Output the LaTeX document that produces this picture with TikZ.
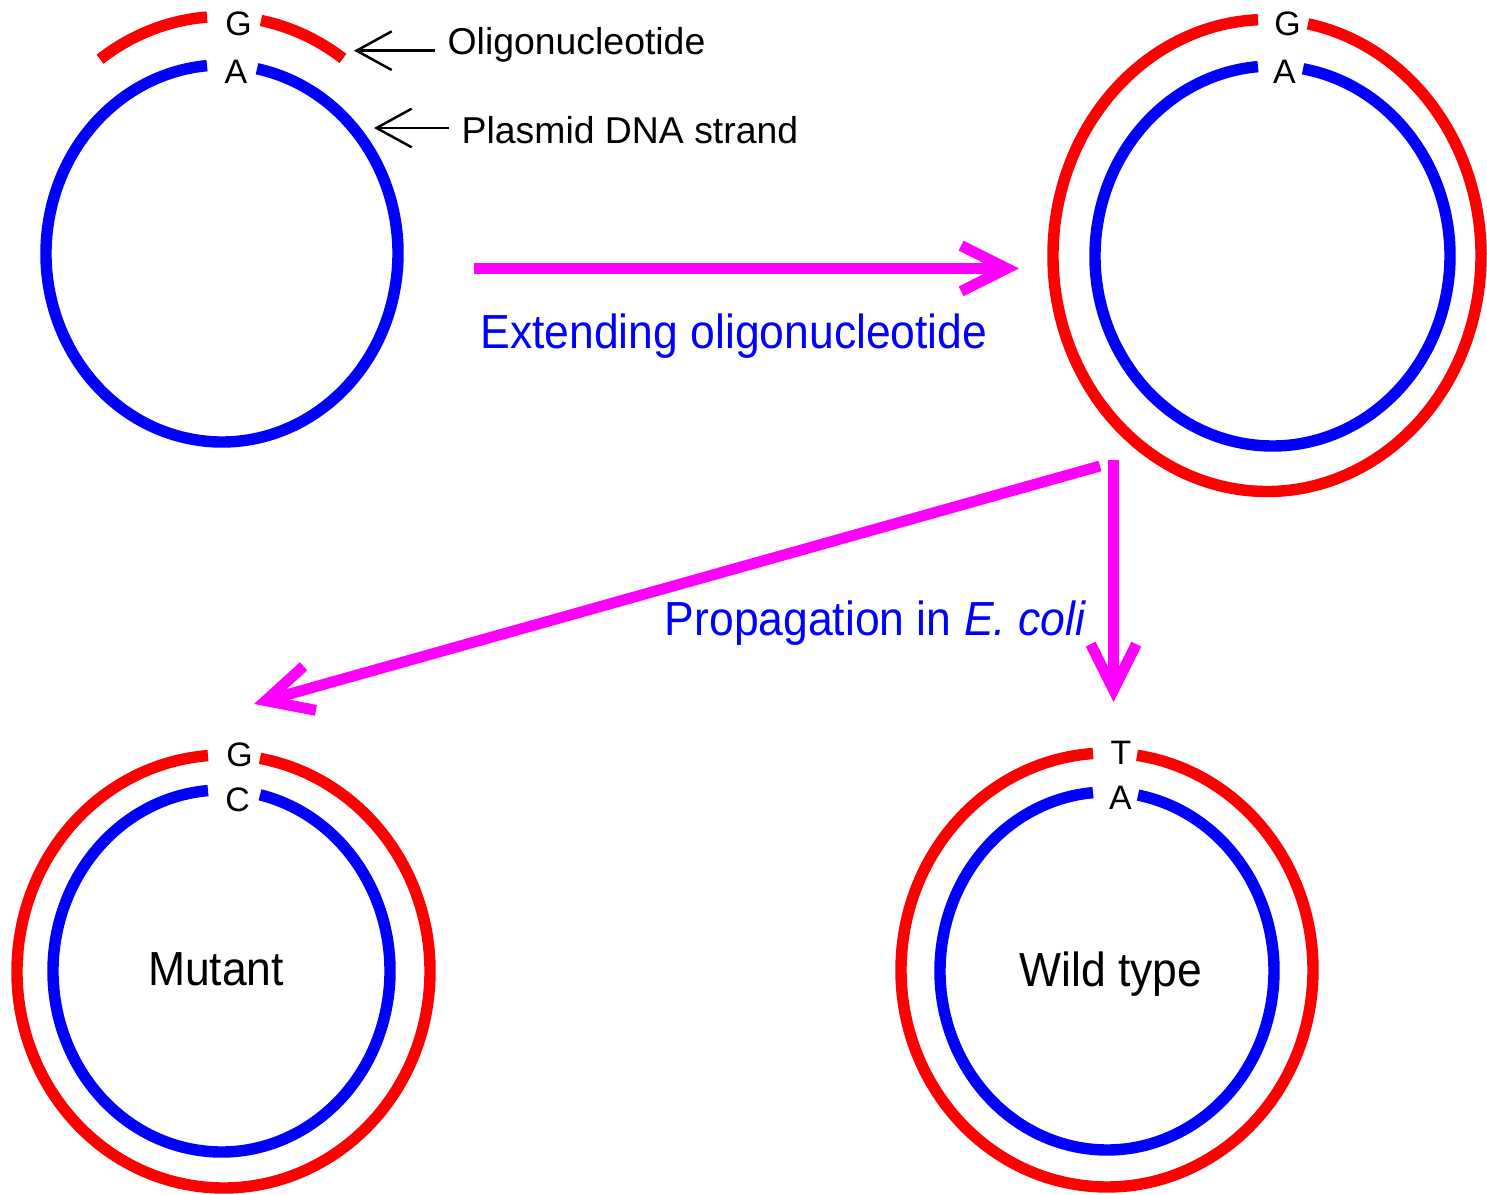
\documentclass[tikz,border=0pt]{standalone}
\usepackage{fontspec}
\setmainfont{Liberation Sans}
\newfontfamily\bigfont[FakeStretch=0.93]{Liberation Sans}
\usetikzlibrary{arrows.meta}
\definecolor{dnared}{RGB}{255,0,0}
\definecolor{dnablue}{RGB}{0,0,255}
\definecolor{arrowmag}{RGB}{255,0,255}
% ring with a gap at the top: cx cy rx ry xleft xright style
\newcommand\dnaring[7]{%
  \pgfmathsetmacro\ringStart{-acos((#6-(#1))/(#3))}%
  \pgfmathsetmacro\ringEnd{360-acos((#5-(#1))/(#3))}%
  \draw[#7] (#1,#2) ++(\ringStart:#3 and #4)
    arc[start angle=\ringStart, end angle=\ringEnd, x radius=#3, y radius=#4];%
}
% short arc on the top half: cx cy rx ry xfrom xto style
\newcommand\dnapiece[7]{%
  \pgfmathsetmacro\ringStart{-acos((#5-(#1))/(#3))}%
  \pgfmathsetmacro\ringEnd{-acos((#6-(#1))/(#3))}%
  \draw[#7] (#1,#2) ++(\ringStart:#3 and #4)
    arc[start angle=\ringStart, end angle=\ringEnd, x radius=#3, y radius=#4];%
}
\begin{document}
\begin{tikzpicture}[x=0.01cm,y=-0.01cm,
  redstrand/.style={draw=dnared,line width=3.25pt},
  bluestrand/.style={draw=dnablue,line width=3.25pt},
  baselabel/.style={font=\fontsize{9.64}{11}\selectfont, anchor=base, inner sep=0pt},
  smalllabel/.style={font=\fontsize{10.63}{12}\selectfont, anchor=base west, inner xsep=3.4pt, inner ysep=0pt},
  biglabel/.style={font=\bigfont\fontsize{13.6}{16}\selectfont, anchor=base, inner sep=0pt},
  steplabel/.style={biglabel, text=dnablue},
  pointer/.style={draw=black, line width=0.7pt, -{Straight Barb[length=10pt,width=11pt]}},
  process/.style={draw=arrowmag, line width=3.1pt, -{Straight Barb[length=13pt,width=13pt]}},
]
\useasboundingbox[fill=white] (0,0) rectangle (1487,1195);

% --- top left: plasmid strand with oligonucleotide
\dnaring{222}{253.5}{176}{188.5}{207}{257}{bluestrand}
\dnapiece{222}{253.5}{213}{237}{100}{207}{redstrand}
\dnapiece{222}{253.5}{213}{237}{261}{343}{redstrand}
\node[baselabel] (tlG) at (238.5,36) {G};
\node[baselabel] (tlA) at (236,84) {A};

% --- top right: extended double strand
\dnaring{1267}{255.5}{214}{236}{1258}{1308}{redstrand}
\dnaring{1272.5}{256}{177.5}{190}{1258}{1303}{bluestrand}
\node[baselabel] (trG) at (1287.5,36) {G};
\node[baselabel] (trA) at (1284.5,84) {A};

% --- bottom left: mutant
\dnaring{223.5}{971.5}{206.5}{216.5}{208}{260}{redstrand}
\dnaring{221.5}{971}{168.5}{181}{208}{260}{bluestrand}
\node[baselabel] (blG) at (239.5,767) {G};
\node[baselabel] (blC) at (237.5,812) {C};
\node[biglabel] (mutant) at (216,986) {Mutant};

% --- bottom right: wild type
\dnaring{1107}{970}{206}{217}{1093}{1137}{redstrand}
\dnaring{1107}{971}{167}{179}{1093}{1138}{bluestrand}
\node[baselabel] (brT) at (1121,765) {T};
\node[baselabel] (brA) at (1120.5,810) {A};
\node[biglabel] (wild) at (1111,987) {Wild type};

% --- pointer labels
\node[smalllabel] (oligo) at (435,55) {Oligonucleotide};
\node[smalllabel] (plasmid) at (449,144) {Plasmid DNA strand};
\coordinate (oligoTip) at (354,50.7);
\coordinate (plasmidTip) at (374,128);
\draw[pointer] (oligo.west |- oligoTip) -- (oligoTip);
\draw[pointer] (plasmid.west |- plasmidTip) -- (plasmidTip);

% --- process arrows
\coordinate (extStart) at (474,268.5);
\coordinate (extEnd) at (1019,268.5);
\coordinate (propStart) at (1100,466);
\coordinate (mutEnd) at (254,704);
\coordinate (wildStart) at (1113.5,460);
\coordinate (wildEnd) at (1113.5,702);
\draw[process] (extStart) -- (extEnd);
\draw[process] (propStart) -- (mutEnd);
\draw[process] (wildStart) -- (wildEnd);

\node[steplabel] (extLabel) at (734,349) {Extending oligonucleotide};
\node[steplabel] (propLabel) at (875.5,636) {Propagation in \textit{E. coli}};
\end{tikzpicture}
\end{document}
